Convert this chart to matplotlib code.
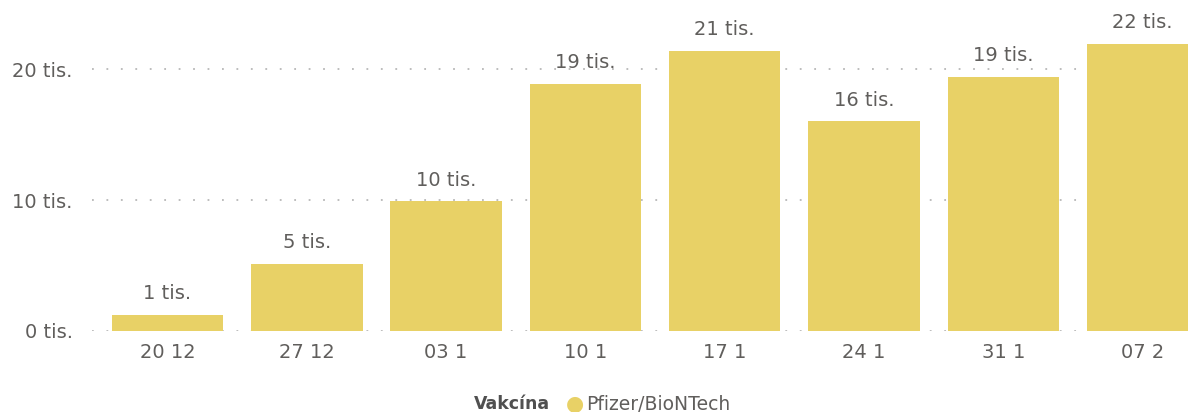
import matplotlib.pyplot as plt
import numpy as np

# Data (thousands of doses per week)
tydny = ['20 12', '27 12', '03 1', '10 1', '17 1', '24 1', '31 1', '07 2']
davky = [1.22, 5.1, 9.9, 18.85, 21.4, 16.0, 19.4, 21.9]
yticky = [0, 10, 20]

barva = '#E8D166'
sediva = '#605E5C'

fig = plt.figure(figsize=(11.88, 4.12), dpi=100)
ax = fig.add_axes([92 / 1188, 81 / 412, 1 - 92 / 1188, 331 / 412])

x = np.arange(len(tydny))
ax.bar(x, davky, width=0.8, color=barva, zorder=3)

for xi, v in zip(x, davky):
    ax.text(xi, v + 0.9, f'{round(v):.0f} tis.', ha='center', va='bottom',
            fontsize=14, color=sediva)

ax.set_xlim(-0.542, 7.326)
ax.set_ylim(0, 25.27)
ax.set_yticks(yticky)
ax.set_yticklabels([f'{t} tis.' for t in yticky])
ax.set_xticks(x)
ax.set_xticklabels(tydny)
ax.tick_params(axis='both', length=0, labelsize=14, labelcolor=sediva)
ax.tick_params(axis='y', pad=14)
ax.tick_params(axis='x', pad=9)
for s in ax.spines.values():
    s.set_visible(False)
ax.yaxis.grid(True, linestyle=(0, (1, 7)), color='#b8b8b8', linewidth=1.3, zorder=0)

# Legend
fig.text(550 / 1188, 8 / 412, 'Vakcína', ha='right', va='center', fontsize=12.5,
         fontweight='bold', color='#505050')
fig.text(575 / 1188, 8 / 412, '\u25CF', ha='center', va='center', fontsize=15, color=barva)
fig.text(586 / 1188, 8 / 412, 'Pfizer/BioNTech', ha='left', va='center', fontsize=13.5,
         color=sediva)

fig.savefig('out.png', dpi=100)
